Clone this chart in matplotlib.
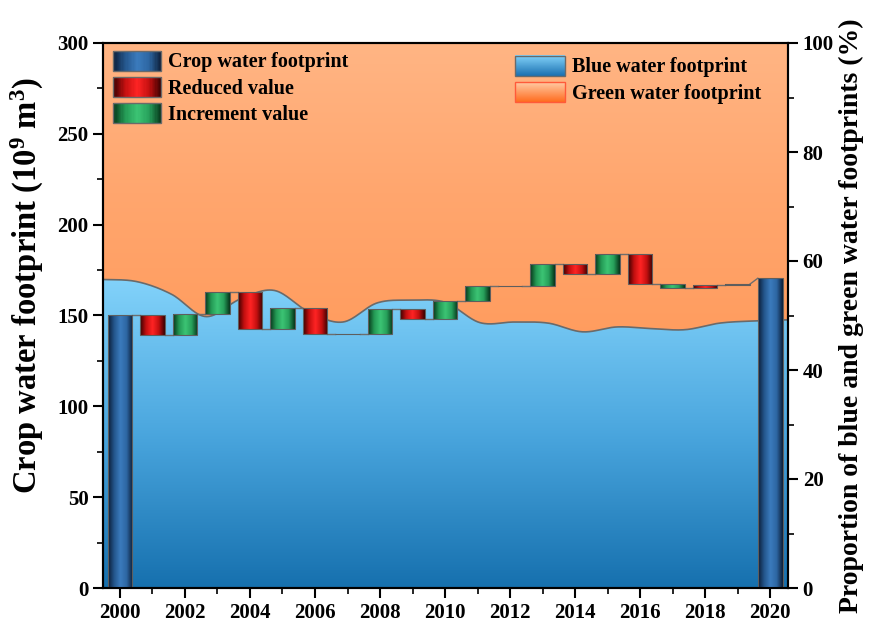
import numpy as np
import matplotlib.pyplot as plt
from matplotlib.colors import LinearSegmentedColormap
from matplotlib.patches import Rectangle, Patch
from matplotlib.legend_handler import HandlerBase

plt.rcParams['font.family'] = 'Liberation Serif'
plt.rcParams['font.weight'] = 'bold'
plt.rcParams['axes.labelweight'] = 'bold'
plt.rcParams['mathtext.fontset'] = 'custom'
plt.rcParams['mathtext.rm'] = 'Liberation Serif:bold'
plt.rcParams['mathtext.it'] = 'Liberation Serif:bold'
plt.rcParams['mathtext.bf'] = 'Liberation Serif:bold'

# waterfall data: level reached at the end of each year (10^9 m3)
years = list(range(2000, 2021))
levels = [150, 139, 151, 163, 142.5, 154, 140, 140, 153.5, 148, 158, 166, 166,
          178.3, 172.6, 183.8, 167.3, 165.2, 166.8, 167.3, 170.5]
kinds = ['total', 'dec', 'inc', 'inc', 'dec', 'inc', 'dec', 'inc', 'inc', 'dec', 'inc',
         'inc', 'inc', 'inc', 'dec', 'inc', 'dec', 'inc', 'dec', 'inc', 'total']

# share of blue water footprint (%), green is the rest
share_years = list(range(2000, 2021))
blue_share = [56.6, 56.2, 53.9, 49.8, 53.0, 54.6, 50.7, 48.8, 52.3, 52.8, 52.4,
              48.7, 48.8, 48.6, 47.0, 47.9, 47.6, 47.4, 48.6, 49.0, 49.2]

cm_bar = {
    'total': LinearSegmentedColormap.from_list('t', ['#0b1c36', '#24568c', '#3b7bbd', '#2d66a2', '#0b1c36']),
    'dec': LinearSegmentedColormap.from_list('d', ['#360000', '#c41010', '#ff2424', '#c41010', '#360000']),
    'inc': LinearSegmentedColormap.from_list('i', ['#053318', '#249a55', '#3cc474', '#27a05b', '#053318']),
}
cm_blue = LinearSegmentedColormap.from_list('b', ['#1670ae', '#4aa6de', '#82d2fa'])
cm_orange = LinearSegmentedColormap.from_list('o', ['#ff9c5e', '#ffa66e', '#ffb584'])
cm_blue_leg = LinearSegmentedColormap.from_list('bl', ['#1a70b0', '#80d0f8'])
cm_orange_leg = LinearSegmentedColormap.from_list('ol', ['#ff6a1c', '#ffc9a3'])


def catmull(x, y, n=30):
    x = np.asarray(x, float)
    y = np.asarray(y, float)
    yp = np.concatenate([[y[0]], y, [y[-1]]])
    t = np.linspace(0, 1, n, endpoint=False)
    ox, oy = [], []
    for i in range(len(x) - 1):
        p0, p1, p2, p3 = yp[i], yp[i + 1], yp[i + 2], yp[i + 3]
        oy.append(0.5 * (2 * p1 + (p2 - p0) * t + (2 * p0 - 5 * p1 + 4 * p2 - p3) * t ** 2
                         + (3 * p1 - p0 - 3 * p2 + p3) * t ** 3))
        ox.append(x[i] + (x[i + 1] - x[i]) * t)
    ox.append([x[-1]])
    oy.append([y[-1]])
    return np.concatenate(ox), np.concatenate(oy)


class GradientHandler(HandlerBase):
    def __init__(self, cmap, vertical=False, edge='#6a6a6a'):
        super().__init__()
        self.cmap = cmap
        self.vertical = vertical
        self.edge = edge

    def create_artists(self, legend, orig_handle, xdescent, ydescent, width, height, fontsize, trans):
        n = 40
        arts = []
        for k in range(n):
            c = self.cmap((k + 0.5) / n)
            if self.vertical:
                r = Rectangle((-xdescent, -ydescent + height * k / n), width, height / n * 1.3,
                              fc=c, ec='none', lw=0, transform=trans)
            else:
                r = Rectangle((-xdescent + width * k / n, -ydescent), width / n * 1.3, height,
                              fc=c, ec='none', lw=0, transform=trans)
            arts.append(r)
        arts.append(Rectangle((-xdescent, -ydescent), width, height, fill=False,
                              ec=self.edge, lw=1, transform=trans))
        return arts


fig = plt.figure(figsize=(8.7, 6.25), dpi=100)
pos = [0.1184, 0.0592, 0.7874, 0.872]

# background areas on their own axes (x from first to last year over full width)
axA = fig.add_axes(pos, zorder=0)
axA.set_xlim(share_years[0], share_years[-1])
axA.set_ylim(0, 100)
axA.axis('off')
sx, sy = catmull(share_years, blue_share)
pb = axA.fill_between(sx, 0, sy, color='none', lw=0)
pg = axA.fill_between(sx, sy, 100, color='none', lw=0)
gv = np.linspace(0, 1, 256)[:, None]
im = axA.imshow(gv, extent=[share_years[0], share_years[-1], 0, max(blue_share)],
                origin='lower', cmap=cm_blue, aspect='auto', interpolation='bilinear')
im.set_clip_path(pb.get_paths()[0], axA.transData)
im = axA.imshow(gv, extent=[share_years[0], share_years[-1], min(blue_share) - 2, 100],
                origin='lower', cmap=cm_orange, aspect='auto', interpolation='bilinear')
im.set_clip_path(pg.get_paths()[0], axA.transData)
axA.plot(sx, sy, color='#6a6a6a', lw=1.2)
axA.set_xlim(share_years[0], share_years[-1])
axA.set_ylim(0, 100)

# waterfall bars
ax1 = fig.add_axes(pos, zorder=1)
ax1.patch.set_visible(False)
w = 0.76
bottoms, heights = [], []
for i, k in enumerate(kinds):
    if k == 'total':
        lo, hi = 0, levels[i]
    else:
        lo, hi = sorted([levels[i - 1], levels[i]])
    bottoms.append(lo)
    heights.append(hi - lo)
bars = ax1.bar(years, heights, bottom=bottoms, width=w, fill=False,
               edgecolor='#5e5e5e', lw=0.8, zorder=4)
gh = np.linspace(0, 1, 256)[None, :]
for b, k in zip(bars, kinds):
    if b.get_height() <= 0:
        continue
    im = ax1.imshow(gh, extent=[b.get_x(), b.get_x() + b.get_width(), b.get_y(),
                                b.get_y() + b.get_height()],
                    cmap=cm_bar[k], aspect='auto', interpolation='bilinear', zorder=3)
    im.set_clip_path(b)

# connectors
for i in range(len(years) - 1):
    y_next = levels[i + 1] if kinds[i + 1] == 'total' else levels[i]
    ax1.plot([years[i] + w / 2, years[i + 1] - w / 2], [levels[i], y_next],
             color='#6e6e6e', lw=1, zorder=2.5)

ax1.set_xlim(1999.48, 2020.55)
ax1.set_ylim(0, 300)
ax1.set_xticks(range(2000, 2021, 2))
ax1.set_xticks(range(2000, 2021), minor=True)
ax1.set_yticks(range(0, 301, 50))
ax1.set_yticks(range(0, 301, 25), minor=True)
ax1.tick_params(which='major', direction='out', length=7, width=1.5, labelsize=15)
ax1.tick_params(which='minor', direction='out', length=4, width=1.2)
ax1.set_ylabel('Crop water footprint (10$^{9}$ m$^{3}$)', fontsize=23.5)
ax1.yaxis.set_label_coords(-0.083, 0.555)
for s in ax1.spines.values():
    s.set_linewidth(1.5)

ax2 = ax1.twinx()
ax2.set_ylim(0, 100)
ax2.set_yticks(range(0, 101, 20))
ax2.set_yticks(range(0, 101, 10), minor=True)
ax2.tick_params(which='major', direction='out', length=7, width=1.5, labelsize=15)
ax2.tick_params(which='minor', direction='out', length=4, width=1.2)
ax2.set_ylabel('Proportion of blue and green water footprints (%)', fontsize=20)
ax2.yaxis.set_label_coords(1.074, 0.5)
for s in ax2.spines.values():
    s.set_linewidth(1.5)

# legends
h1 = [Patch(), Patch(), Patch()]
leg1 = ax1.legend(h1, ['Crop water footprint', 'Reduced value', 'Increment value'],
                  handler_map={h1[0]: GradientHandler(cm_bar['total']),
                               h1[1]: GradientHandler(cm_bar['dec']),
                               h1[2]: GradientHandler(cm_bar['inc'])},
                  loc='upper left', bbox_to_anchor=(0.0146, 0.986), frameon=False,
                  prop={'size': 14.5, 'weight': 'bold'}, handlelength=2.4, handleheight=1.15,
                  labelspacing=0.22, handletextpad=0.35, borderaxespad=0, borderpad=0)
ax1.add_artist(leg1)
h2 = [Patch(), Patch()]
ax1.legend(h2, ['Blue water footprint', 'Green water footprint'],
           handler_map={h2[0]: GradientHandler(cm_blue_leg, vertical=True),
                        h2[1]: GradientHandler(cm_orange_leg, vertical=True, edge='#ff5a3a')},
           loc='upper left', bbox_to_anchor=(0.601, 0.977), frameon=False,
           prop={'size': 14.5, 'weight': 'bold'}, handlelength=2.5, handleheight=1.15,
           labelspacing=0.25, handletextpad=0.35, borderaxespad=0, borderpad=0)

fig.savefig('out.png', dpi=100)
